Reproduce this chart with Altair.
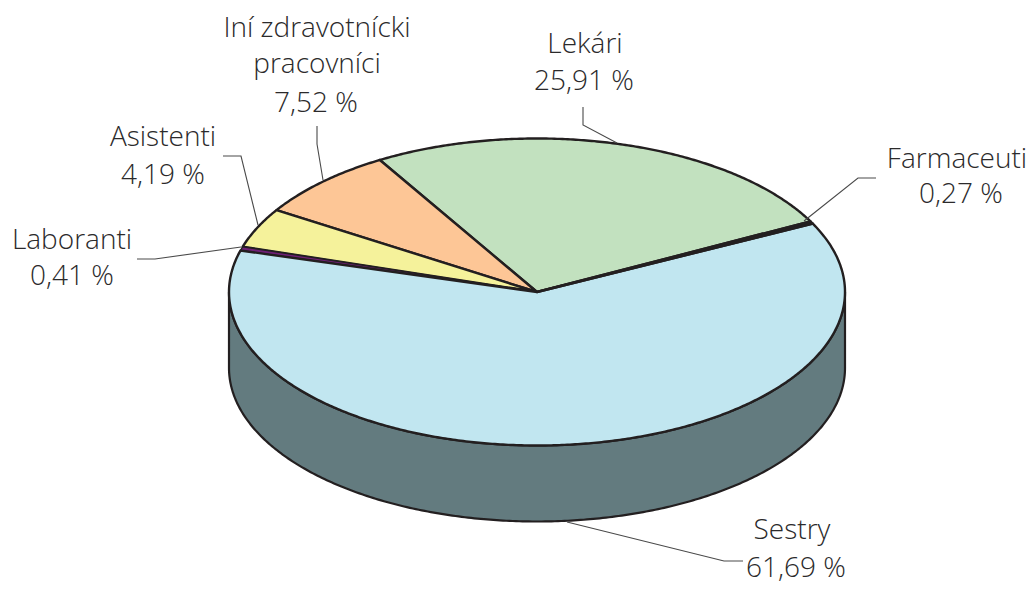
import numpy as np
import pandas as pd
import altair as alt

categories = ["Lekári", "Iní zdravotnícki pracovníci", "Asistenti", "Laboranti", "Sestry", "Farmaceuti"]
shares = [25.91, 7.52, 4.19, 0.41, 61.69, 0.27]
colors = ["#c2e1bf", "#fdc696", "#f5f29b", "#6f2076", "#c1e6f0", "#231f20"]
edge_widths = [2.4, 2.4, 2.4, 1.4, 2.4, 2.4]

label_text = ["Iní zdravotnícki", "pracovníci", "7,52 %", "Asistenti", "4,19 %", "Laboranti", "0,41 %",
              "Lekári", "25,91 %", "Farmaceuti", "0,27 %", "Sestry", "61,69 %"]
label_x = [317, 317, 316, 163, 163, 72, 72, 585, 584, 957, 961, 792, 796]
label_y = [37, 73, 112, 146, 184, 249, 285, 53, 90, 168, 203, 539, 577]

leader_name = ["lek"] * 3 + ["far"] * 3 + ["ses"] * 3 + ["ini"] * 3 + ["asi"] * 3 + ["lab"] * 3
leader_x = [583, 583, 617, 876, 858, 804, 743, 724, 567, 317, 317, 323, 223, 241, 258, 137, 155, 241]
leader_y = [107, 125, 143, 178, 178, 221, 561, 561, 522, 126, 144, 180, 156, 156, 225, 259, 259, 247]

CX, CY, RX, RY, DEPTH, START = 537, 292, 308, 153.5, 76, 27.4
EDGE = "#231f20"
xs = alt.X("x:Q", scale=alt.Scale(domain=[8, 1027], nice=False, zero=False), axis=None)
ys = alt.Y("y:Q", scale=alt.Scale(domain=[584, 8], nice=False, zero=False), axis=None)


def wedge(a0, a1):
    t = np.radians(np.linspace(a0, a1, max(3, int((a1 - a0) * 2) + 2)))
    return pd.DataFrame({
        "x": np.r_[CX, CX + RX * np.cos(t)],
        "y": np.r_[CY, CY - RY * np.sin(t)],
        "i": np.arange(len(t) + 1),
    })


layers = []
# side wall
t = np.radians(np.linspace(180, 360, 300))
side = pd.DataFrame({
    "x": np.r_[CX + RX * np.cos(t), CX + RX * np.cos(t[::-1])],
    "y": np.r_[CY - RY * np.sin(t), CY + DEPTH - RY * np.sin(t[::-1])],
})
side["i"] = np.arange(len(side))
layers.append(alt.Chart(side).mark_line(interpolate="linear-closed", fill="#637b7f", stroke=EDGE, strokeWidth=2.2)
              .encode(x=xs, y=ys, order="i:Q"))

# slices
scale_deg = 360 / sum(shares)
a = START
for c, s, col, w in zip(categories, shares, colors, edge_widths):
    b = a + s * scale_deg
    layers.append(alt.Chart(wedge(a, b)).mark_line(interpolate="linear-closed", fill=col, stroke=EDGE,
                                                   strokeWidth=w, strokeJoin="round")
                  .encode(x=xs, y=ys, order="i:Q"))
    a = b

# leader lines
leaders = pd.DataFrame({"x": leader_x, "y": leader_y, "g": leader_name})
leaders["i"] = leaders.index
layers.append(alt.Chart(leaders).mark_line(stroke="#4a4a4a", strokeWidth=1.1)
              .encode(x=xs, y=ys, detail="g:N", order="i:Q"))

# labels
labels = pd.DataFrame({"x": label_x, "y": label_y, "t": label_text})
layers.append(alt.Chart(labels).mark_text(font="Open Sans", fontSize=28, fontWeight=300, color="#2b2a2b",
                                          align="center", baseline="alphabetic")
              .encode(x=xs, y=ys, text="t:N"))

chart = alt.layer(*layers).properties(width=1019, height=576, padding=0, background="white",
                                      autosize=alt.AutoSizeParams(type="none")).configure_view(stroke=None)
chart.save("out.html", embed_options={"renderer": "svg", "actions": False})
